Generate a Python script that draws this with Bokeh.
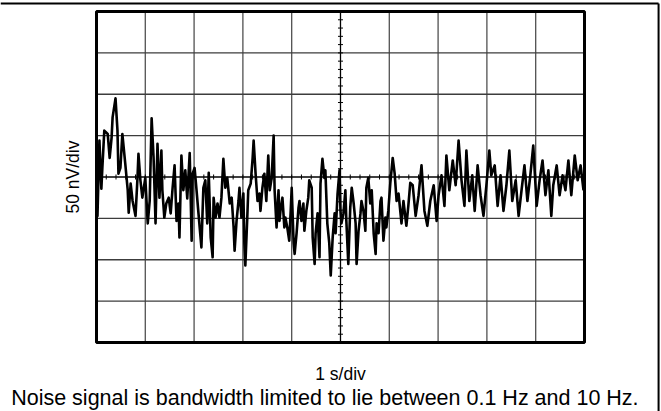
import numpy as np
from bokeh.plotting import figure
from bokeh.models import Label, Range1d
from bokeh.embed import file_html
from bokeh.resources import INLINE

# Time (s) and noise voltage (nV)
t_s = [0.00, 0.02, 0.06, 0.10, 0.12, 0.16, 0.23, 0.27, 0.31, 0.33, 0.39, 0.43, 0.45, 0.49, 0.53, 0.59,
       0.64, 0.66, 0.70, 0.74, 0.80, 0.84, 0.86, 0.90, 0.94, 1.00, 1.05, 1.09, 1.13, 1.17, 1.21,
       1.25, 1.29, 1.33, 1.35, 1.39, 1.43, 1.48, 1.52, 1.56, 1.60, 1.64, 1.68, 1.70, 1.74, 1.78,
       1.82, 1.86, 1.91, 1.95, 1.97, 2.01, 2.05, 2.09, 2.15, 2.19, 2.23, 2.27, 2.30, 2.34, 2.38,
       2.40, 2.44, 2.48,
       2.52, 2.56, 2.60, 2.64, 2.68, 2.73, 2.77, 2.81, 2.83, 2.87, 2.91, 2.93, 2.97, 3.01, 3.03,
       3.05, 3.09, 3.11, 3.16, 3.20, 3.22, 3.26, 3.30, 3.34, 3.36, 3.40, 3.44, 3.48, 3.52, 3.55,
       3.59, 3.63, 3.65, 3.69, 3.73,
       3.75, 3.77, 3.81, 3.85, 3.87, 3.91, 3.95, 3.98, 4.00, 4.04, 4.06, 4.10, 4.14, 4.16, 4.20,
       4.24, 4.26, 4.30, 4.34, 4.36, 4.41, 4.43, 4.47, 4.49, 4.53, 4.57, 4.59, 4.63, 4.67, 4.69,
       4.73, 4.77, 4.80, 4.84, 4.88, 4.90, 4.94, 4.98,
       5.00, 5.02, 5.06, 5.10, 5.12, 5.16, 5.20, 5.23, 5.27, 5.31, 5.33, 5.37, 5.41, 5.43, 5.47,
       5.51, 5.53, 5.57, 5.61, 5.64, 5.68, 5.72, 5.74, 5.78, 5.82, 5.84, 5.88, 5.92, 5.94, 5.98,
       6.02, 6.07, 6.11, 6.15, 6.19, 6.23, 6.25,
       6.29, 6.35, 6.39, 6.43, 6.48, 6.54, 6.60, 6.66, 6.72, 6.78, 6.84, 6.91, 6.97, 7.01, 7.07,
       7.13, 7.17, 7.23, 7.30, 7.36, 7.42, 7.48, 7.54, 7.58, 7.64, 7.70, 7.75, 7.81, 7.87, 7.93,
       7.99, 8.05, 8.09, 8.16, 8.22, 8.28, 8.34, 8.40, 8.46, 8.52, 8.59, 8.65, 8.71, 8.77, 8.83,
       8.89, 8.95, 9.02, 9.08, 9.14, 9.20, 9.26, 9.32, 9.36, 9.43, 9.49, 9.55, 9.61, 9.67, 9.73,
       9.80, 9.86, 9.92, 9.98]

noise_nv = [-22, -47, 44, -14, 11, 56, 52, 23, 48, 72, 95, 56, 4, 11, 52, 16,
            -16, -43, -8, -29, -47, -1, 28, -4, -25, -1, -56, -29, 71, 23, -56,
            40, -25, 32, -16, -49, -32, -25, -44, -13, 14, -53, -32, -73, 26, -16,
            8, -26, 29, -77, 4, 11, -16, -44, -85, -13, -4, -56, 5, -73, -97,
            -25, -49, -32,
            -49, -25, 22, -13, -1, -32, -25, -61, -89, -53, -29, -13, -49, -20, -80,
            -107, -49, -16, -8, 23, 44, 4, -29, -20, -41, -13, 4, -29, 26, -16,
            -1, 50, -16, -61, -16,
            -53, -41, -25, -61, -49, -61, -77, -41, -13, -80, -93, -68, -37, -29, -53,
            -32, -65, -41, -25, -4, -13, -73, -105, -68, -44, -97, -8, 22, -1, 8,
            -56, -80, -119, -73, -44, -68, -20, 8,
            -41, -56, -44, -16, -53, -105, -37, -13, -32, -56, -105, -65, -44, -29, -41,
            -65, -13, -1, -32, -16, -68, -93, -56, -68, -29, -25, -77, -49, -61, -41,
            -8, 23, 4, -29, -20, -44, -56,
            -29, -59, -35, -7, -10, -47, -22, 14, -41, -59, -29, -10, -53, -22, 2,
            -35, 26, -16, 20, -10, 44, -4, -35, 32, -29, 2, -41, 14, -22, -47,
            -10, 32, 2, 14, -35, 2, -41, -10, 32, -29, -4, -47, -16, 14, -29,
            2, 38, -35, -4, 20, -22, 8, -47, -10, 14, -22, 2, -16, 20, -22,
            26, -4, 14, -16]

x_divs = list(range(0, 11))          # 1 s/div, 10 divisions
y_divs = list(range(-200, 201, 50))  # 50 nV/div, 8 divisions

x_label = "1 s/div"
y_label = "50 nV/div"
caption = "Noise signal is bandwidth limited to lie between 0.1 Hz and 10 Hz."

FONT = "Liberation Sans"

# the frame covers the whole canvas; the graticule is drawn in data space
X0, X1 = -1.967, 11.578
Y0, Y1 = -283.4, 213.3

p = figure(width=661, height=411, output_backend="svg", toolbar_location=None,
           x_axis_type=None, y_axis_type=None,
           x_range=Range1d(X0, X1), y_range=Range1d(Y0, Y1),
           min_border=0, min_border_left=0, min_border_right=0,
           min_border_top=0, min_border_bottom=0)
p.background_fill_color = "white"
p.border_fill_color = "white"
p.outline_line_color = None
p.grid.visible = False

xmin, xmax = x_divs[0], x_divs[-1]
ymin, ymax = y_divs[0], y_divs[-1]
xc = (xmin + xmax) / 2
yc = (ymin + ymax) / 2

# outer page border (top and right)
p.line([X0, X1 - 0.06], [Y1 - 3.6, Y1 - 3.6], line_color="black", line_width=2)
p.line([X1 - 0.06, X1 - 0.06], [Y1 - 3.6, Y0], line_color="black", line_width=2)

# division grid
inner_x = [xv for xv in x_divs[1:-1] if xv != xc]
inner_y = [yv for yv in y_divs[1:-1] if yv != yc]
p.segment(x0=inner_x, y0=[ymin] * len(inner_x), x1=inner_x, y1=[ymax] * len(inner_x),
          line_color="#505050", line_width=1.3)
p.segment(x0=[xmin] * len(inner_y), y0=inner_y, x1=[xmax] * len(inner_y), y1=inner_y,
          line_color="#3c3c3c", line_width=1.3)
p.segment(x0=[xc, xmin], y0=[ymin, yc], x1=[xc, xmax], y1=[ymax, yc],
          line_color="black", line_width=1.3)

# minor ticks on the centre axes (5 per division)
minor_x = np.arange(xmin, xmax + 0.001, 0.2)
minor_y = np.arange(ymin, ymax + 0.001, 10)
p.scatter(minor_x, np.full_like(minor_x, yc), marker="dash", size=5, angle=np.pi / 2,
          line_color="black", line_width=1)
p.scatter(np.full_like(minor_y, xc), minor_y, marker="dash", size=5,
          line_color="black", line_width=1)

# noise trace
p.line(t_s, noise_nv, line_color="black", line_width=2.6, line_join="round")

# graticule frame
p.quad(left=[xmin], right=[xmax], bottom=[ymin], top=[ymax],
       fill_color=None, line_color="black", line_width=3)

# texts
p.add_layout(Label(x=xc, y=-238.5, text=x_label, text_align="center", text_baseline="alphabetic",
                   text_font=FONT, text_font_size="17.5px", text_color="black"))
p.add_layout(Label(x=-0.49, y=yc, text=y_label, text_align="center", text_baseline="middle",
                   angle=np.pi / 2, text_font=FONT, text_font_size="17.5px", text_color="black"))
p.add_layout(Label(x=4.68, y=-267.5, text=caption, text_align="center", text_baseline="alphabetic",
                   text_font=FONT, text_font_size="21.5px", text_color="black"))

open("out.html", "w").write(file_html(p, INLINE))
